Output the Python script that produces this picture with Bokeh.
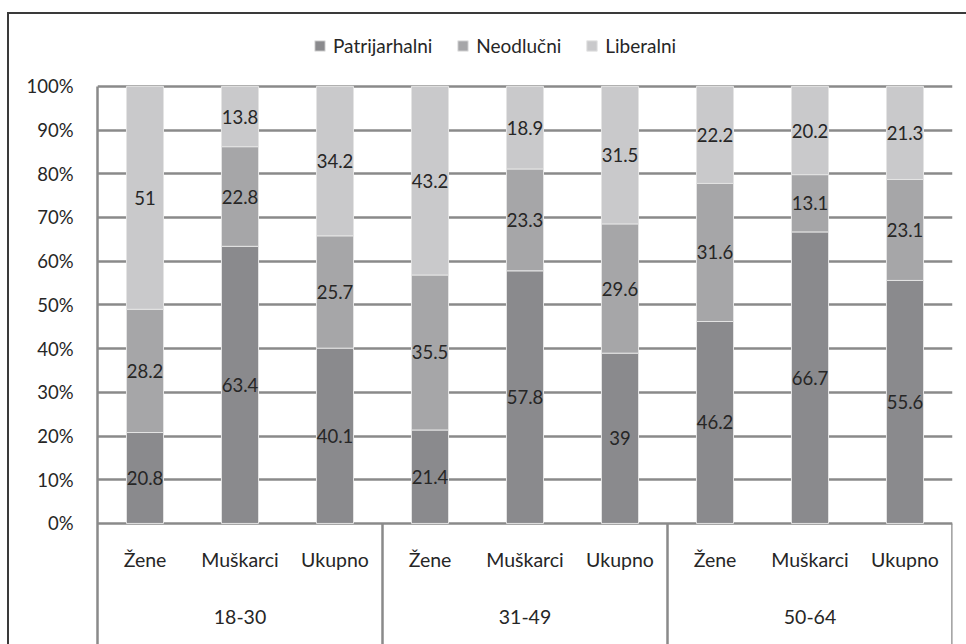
import numpy as np
from bokeh.plotting import figure
from bokeh.models import ColumnDataSource, Range1d, FixedTicker, Legend, LegendItem
from bokeh.core.properties import value
from bokeh.embed import file_html
from bokeh.resources import INLINE

# ---- data ----
groups = ["18-30", "31-49", "50-64"]
subgroups = ["Žene", "Muškarci", "Ukupno"]
series = ["Patrijarhalni", "Neodlučni", "Liberalni"]
patrijarhalni = [20.8, 63.4, 40.1, 21.4, 57.8, 39, 46.2, 66.7, 55.6]
neodlucni = [28.2, 22.8, 25.7, 35.5, 23.3, 29.6, 31.6, 13.1, 23.1]
liberalni = [51, 13.8, 34.2, 43.2, 18.9, 31.5, 22.2, 20.2, 21.3]
y_ticks = [0, 10, 20, 30, 40, 50, 60, 70, 80, 90, 100]
y_tick_labels = ["0%", "10%", "20%", "30%", "40%", "50%", "60%", "70%", "80%", "90%", "100%"]

# ---- styles ----
FONT = "Lato"
TXT = "#262626"
GRID = "#8a8a8a"
colors = ["#8a8a8d", "#a6a6a8", "#c9c9cb"]

n = len(patrijarhalni)
raw = np.array([patrijarhalni, neodlucni, liberalni], dtype=float)
totals = raw.sum(axis=0)
pct = raw / totals * 100.0
x = np.arange(n) + 0.5

src = ColumnDataSource(dict(x=x, s0=pct[0], s1=pct[1], s2=pct[2]))

Y0 = -27.7
Y1 = 116.9
p = figure(width=959, height=632, output_backend="svg", toolbar_location=None,
           x_range=Range1d(0, n), y_range=Range1d(Y0, Y1),
           min_border_left=90, min_border_right=14, min_border_top=0, min_border_bottom=0,
           border_fill_color=None, background_fill_color=None)
p.styles = {"margin-top": "12px", "margin-left": "7px",
            "box-shadow": "inset 2px 2px 0 #3a3a3a"}
p.outline_line_color = None
p.xaxis.visible = False
p.xgrid.visible = False

p.ygrid.ticker = FixedTicker(ticks=y_ticks)
p.ygrid.grid_line_color = GRID
p.ygrid.grid_line_width = 2.5
p.yaxis.ticker = FixedTicker(ticks=y_ticks)
p.yaxis.bounds = (Y0, 100)
p.yaxis.major_label_overrides = {t: l for t, l in zip(y_ticks, y_tick_labels)}
p.yaxis.major_tick_line_color = None
p.yaxis.minor_tick_line_color = None
p.yaxis.axis_line_color = GRID
p.yaxis.axis_line_width = 2.5
p.yaxis.major_label_standoff = 18
p.yaxis.major_label_text_font = FONT
p.yaxis.major_label_text_font_size = "18.5px"
p.yaxis.major_label_text_color = TXT

rs = p.vbar_stack(["s0", "s1", "s2"], x="x", width=0.39, source=src,
                  fill_color=colors, line_color="#e4e4e4", line_width=1)

# data labels at segment centres
cum = np.cumsum(pct, axis=0)
lx, ly, lt = [], [], []
for k in range(3):
    for i in range(n):
        lx.append(x[i])
        ly.append(cum[k, i] - pct[k, i] / 2)
        lt.append("{:g}".format(raw[k, i]))
p.text(x=lx, y=ly, text=lt, text_align="center", text_baseline="middle",
       text_font=value(FONT), text_font_size="18.5px", text_color=TXT)

# category labels (two levels) inside the lower band
sub_labels = [subgroups[i % 3] for i in range(n)]
p.text(x=x, y=[-8.2] * n, text=sub_labels, text_align="center", text_baseline="middle",
       text_font=value(FONT), text_font_size="19.5px", text_color=TXT)
gx = [3 * g + 1.5 for g in range(len(groups))]
p.text(x=gx, y=[-21.5] * len(groups), text=groups, text_align="center", text_baseline="middle",
       text_font=value(FONT), text_font_size="19.5px", text_color=TXT)

# group separators
sep_x = [3 * (g + 1) for g in range(len(groups))]
p.segment(x0=sep_x, y0=[Y0] * len(sep_x), x1=sep_x, y1=[0] * len(sep_x),
          line_color=GRID, line_width=2.5)

legend = Legend(items=[LegendItem(label=s, renderers=[r]) for s, r in zip(series, rs)],
                orientation="horizontal", location=(216, 587),
                glyph_width=13, glyph_height=13, label_standoff=7, spacing=24,
                padding=0, margin=0, border_line_color=None, background_fill_alpha=0,
                label_text_font=FONT, label_text_font_size="19px", label_text_color=TXT,
                label_height=14)
p.add_layout(legend, "center")

open("out.html", "w").write(file_html(p, INLINE))
